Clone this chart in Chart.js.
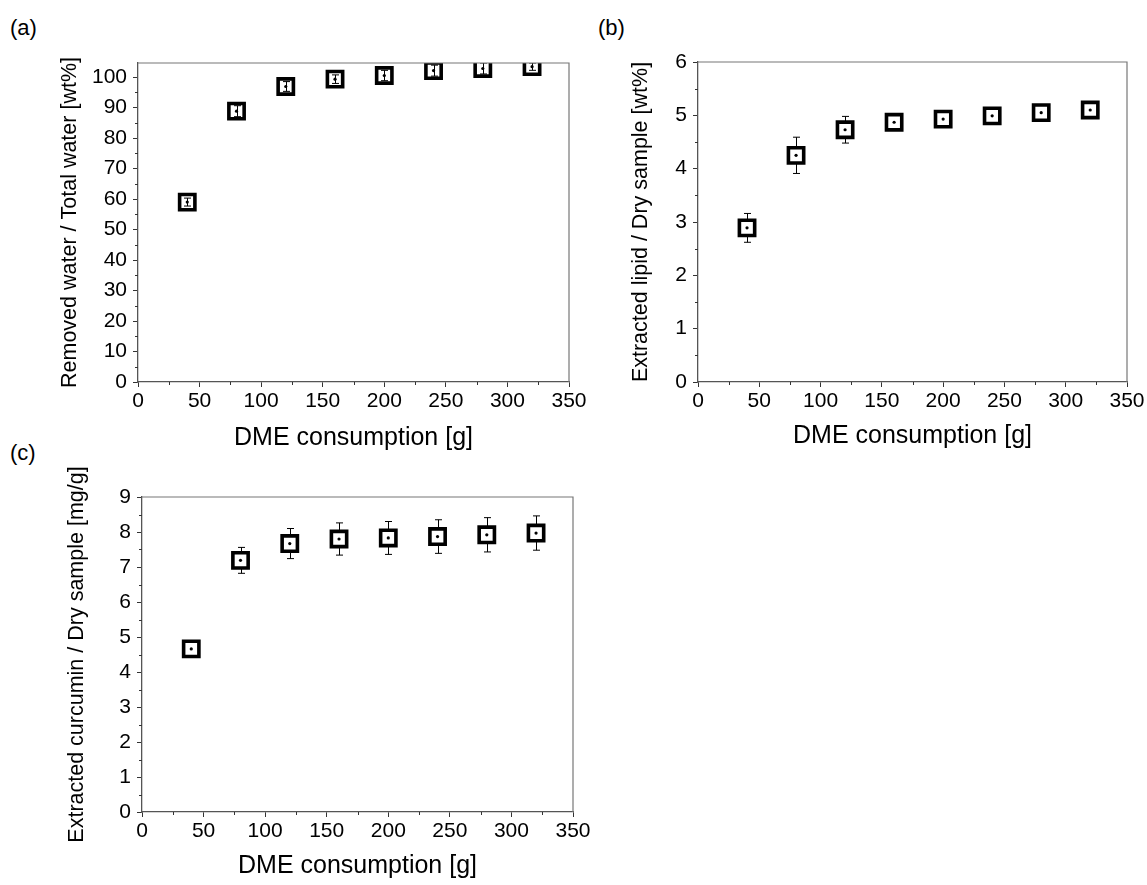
<!DOCTYPE html>
<html>
<head>
<meta charset="utf-8">
<script src="https://cdn.jsdelivr.net/npm/chart.js@4.4.0/dist/chart.umd.min.js"></script>
<style>
  html, body { margin: 0; padding: 0; background: #fff; }
  body { width: 1147px; height: 885px; position: relative; overflow: hidden; font-family: 'Liberation Sans', Arial, sans-serif; }
  canvas { position: absolute; }
  .tag { position: absolute; font-size: 22px; line-height: 1; color: #000; }
</style>
</head>
<body>
<div class="tag" style="left:10px;top:17px">(a)</div>
<div class="tag" style="left:598px;top:17px">(b)</div>
<div class="tag" style="left:10px;top:442px">(c)</div>
<canvas id="chartA" width="590" height="455" style="left:0;top:0"></canvas>
<canvas id="chartB" width="557" height="455" style="left:590px;top:0"></canvas>
<canvas id="chartC" width="600" height="435" style="left:0;top:450px"></canvas>
<script>
// values
const dmeConsumption = [40, 80, 120, 160, 200, 240, 280, 320];

const removedWater    = [59.0, 88.8, 96.9, 99.3, 100.5, 102.1, 102.8, 103.4];
const removedWaterErr = [1.3, 1.8, 1.6, 1.4, 1.7, 1.8, 1.8, 1.2];

const extractedLipid    = [2.89, 4.25, 4.73, 4.87, 4.93, 4.99, 5.05, 5.10];
const extractedLipidErr = [0.27, 0.34, 0.25, 0.15, 0.08, 0.06, 0.08, 0.07];

const extractedCurcumin    = [4.66, 7.19, 7.67, 7.80, 7.83, 7.87, 7.92, 7.97];
const extractedCurcuminErr = [0.12, 0.37, 0.43, 0.46, 0.47, 0.48, 0.49, 0.49];

const xTicks        = [0, 50, 100, 150, 200, 250, 300, 350];
const waterTicks    = [0, 10, 20, 30, 40, 50, 60, 70, 80, 90, 100];
const lipidTicks    = [0, 1, 2, 3, 4, 5, 6];
const curcuminTicks = [0, 1, 2, 3, 4, 5, 6, 7, 8, 9];

Chart.defaults.font.family = "'Liberation Sans', Arial, sans-serif";
Chart.defaults.color = '#000';

// grey box on top/right + short minor ticks between the major ones
const framePlugin = {
  id: 'frame',
  afterDraw(chart) {
    const { ctx, chartArea: a, scales: { x, y } } = chart;
    ctx.save();
    ctx.strokeStyle = '#777';
    ctx.lineWidth = 1.2;
    ctx.beginPath();
    ctx.moveTo(a.left, a.top);
    ctx.lineTo(a.right, a.top);
    ctx.lineTo(a.right, a.bottom);
    ctx.stroke();

    ctx.strokeStyle = '#333';
    ctx.lineWidth = 1;
    ctx.beginPath();
    const xv = x.ticks.map(t => t.value);
    for (let i = 0; i < xv.length - 1; i++) {
      const px = Math.round(x.getPixelForValue((xv[i] + xv[i + 1]) / 2)) + 0.5;
      ctx.moveTo(px, a.bottom);
      ctx.lineTo(px, a.bottom + 3);
    }
    const yv = y.ticks.map(t => t.value);
    for (let i = 0; i < yv.length - 1; i++) {
      const py = Math.round(y.getPixelForValue((yv[i] + yv[i + 1]) / 2)) + 0.5;
      ctx.moveTo(a.left, py);
      ctx.lineTo(a.left - 3, py);
    }
    ctx.stroke();
    ctx.restore();
  }
};

function drawErrorBars(chart) {
  const { ctx, chartArea: a, scales: { x, y } } = chart;
  ctx.save();
  ctx.beginPath();
  ctx.rect(a.left, a.top, a.right - a.left, a.bottom - a.top);
  ctx.clip();
  ctx.strokeStyle = '#000';
  ctx.lineWidth = 1;
  ctx.beginPath();
  chart.data.datasets.forEach(ds => {
    if (!ds.errorBars) return;
    ds.data.forEach((p, i) => {
      const px = Math.round(x.getPixelForValue(p.x)) + 0.5;
      const hi = y.getPixelForValue(p.y + ds.errorBars[i]);
      const lo = y.getPixelForValue(p.y - ds.errorBars[i]);
      ctx.moveTo(px, hi); ctx.lineTo(px, lo);
      ctx.moveTo(px - 3.5, hi); ctx.lineTo(px + 3.5, hi);
      ctx.moveTo(px - 3.5, lo); ctx.lineTo(px + 3.5, lo);
    });
  });
  ctx.stroke();
  ctx.restore();
}

const errorBarPlugin = {
  id: 'errorBars',
  beforeDatasetsDraw(chart, args, opts) { if (!opts.onTop) drawErrorBars(chart); },
  afterDatasetsDraw(chart, args, opts) { if (opts.onTop) drawErrorBars(chart); }
};

function makeChart(id, values, errors, yTicks, yMax, yTitle, L) {
  const pts = dmeConsumption.map((x, i) => ({ x: x, y: values[i] }));
  return new Chart(document.getElementById(id), {
    type: 'scatter',
    data: {
      datasets: [
        { data: pts, pointStyle: 'circle', pointRadius: 1.6, backgroundColor: '#000', borderWidth: 0 },
        { data: pts, pointStyle: 'rect', pointRadius: 10.8, borderWidth: 3.6,
          borderColor: '#000', backgroundColor: L.fill, errorBars: errors }
      ]
    },
    options: {
      responsive: false,
      animation: false,
      events: [],
      layout: { padding: L.padding },
      plugins: {
        legend: { display: false },
        tooltip: { enabled: false },
        errorBars: { onTop: L.errOnTop }
      },
      scales: {
        x: {
          min: 0, max: 350,
          afterBuildTicks: s => { s.ticks = xTicks.map(v => ({ value: v })); },
          afterFit: s => { s.height = L.xHeight; },
          border: { color: '#555', width: 1.3 },
          grid: { drawOnChartArea: false, drawTicks: true, tickLength: 5, tickColor: '#333' },
          ticks: { font: { size: 21 }, padding: 2, maxRotation: 0, color: '#000' },
          title: { display: true, text: 'DME consumption [g]', font: { size: 25 },
                   padding: { top: 0, bottom: L.xTitlePad }, color: '#000' }
        },
        y: {
          min: 0, max: yMax,
          afterBuildTicks: s => { s.ticks = yTicks.map(v => ({ value: v })); },
          afterFit: s => { s.width = L.yWidth; },
          border: { color: '#555', width: 1.3 },
          grid: { drawOnChartArea: false, drawTicks: true, tickLength: 5, tickColor: '#333' },
          ticks: { font: { size: 21 }, padding: 6, color: '#000' },
          title: { display: true, text: yTitle, font: { size: 21.5 },
                   padding: { top: L.yTitlePad, bottom: 0 }, color: '#000' }
        }
      }
    },
    plugins: [framePlugin, errorBarPlugin]
  });
}

makeChart('chartA', removedWater, removedWaterErr, waterTicks, 104.6,
  'Removed water / Total water [wt%]',
  { padding: { top: 63, right: 21, left: 0, bottom: 0 }, yWidth: 138, xHeight: 73,
    yTitlePad: 57, xTitlePad: 2, errOnTop: true, fill: 'rgba(0,0,0,0)' });

makeChart('chartB', extractedLipid, extractedLipidErr, lipidTicks, 6,
  'Extracted lipid / Dry sample [wt%]',
  { padding: { top: 62, right: 20, left: 0, bottom: 0 }, yWidth: 108, xHeight: 73,
    yTitlePad: 38, xTitlePad: 4, errOnTop: false, fill: '#fff' });

makeChart('chartC', extractedCurcumin, extractedCurcuminErr, curcuminTicks, 9,
  'Extracted curcumin / Dry sample [mg/g]',
  { padding: { top: 47, right: 27, left: 0, bottom: 0 }, yWidth: 142, xHeight: 73,
    yTitlePad: 64, xTitlePad: 4, errOnTop: false, fill: '#fff' });
</script>
</body>
</html>
